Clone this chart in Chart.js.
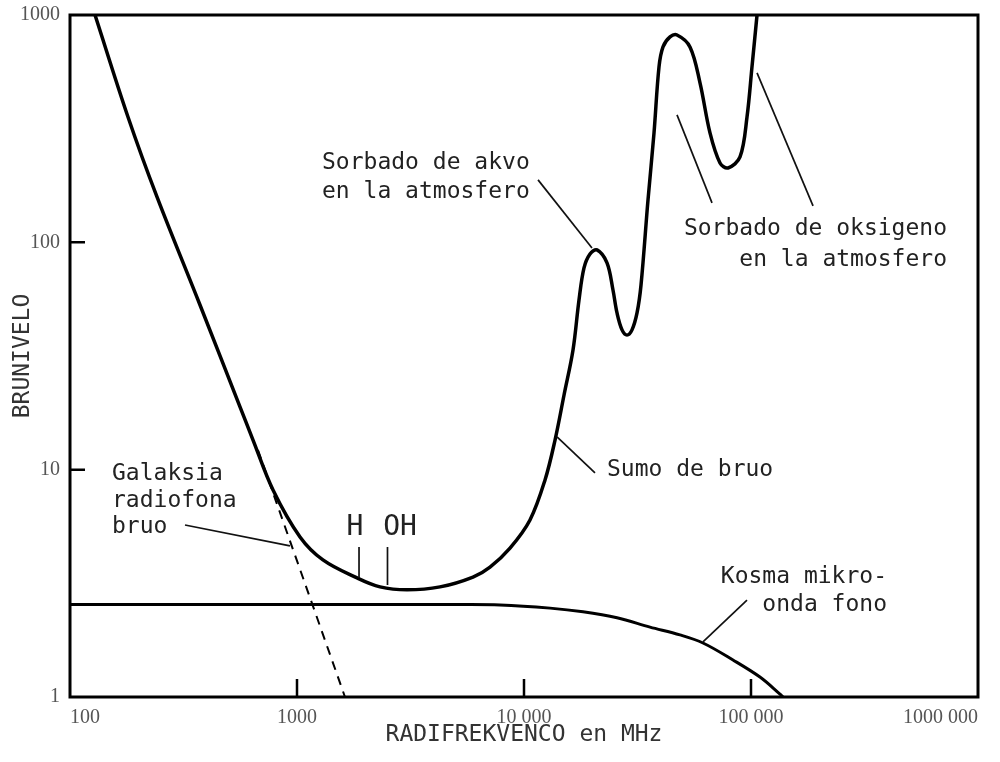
<!DOCTYPE html>
<html>
<head>
<meta charset="utf-8">
<script src="https://cdn.jsdelivr.net/npm/chart.js@4"></script>
<style>
  body { margin: 0; background: #fff; }
  canvas { display: block; }
</style>
</head>
<body>
<canvas id="noise" width="1000" height="762"></canvas>
<script>
const xTicks = [100, 1000, 10000, 100000, 1000000];
const xTickLabels = ['100', '1000', '10 000', '100 000', '1000 000'];
const yTicks = [1, 10, 100, 1000];
const yTickLabels = ['1', '10', '100', '1000'];

// Sumo de bruo
const sumoFreq = [128.9, 180.1, 241.7, 373.9, 560.9, 640.2, 784.1, 1031, 1301, 1838, 2321, 3052, 4266, 5961,
  7084, 8677, 10627, 12377, 13700, 15010, 16440, 17470, 18380, 19530, 20970, 23210, 24660, 25690, 27030,
  28430, 29910, 31470, 32770, 35180, 37390, 39330, 40960, 43980, 47210, 53850, 59610, 65970, 73020, 79190,
  89450, 96030, 101000, 106300];
const sumoLevel = [1000, 356, 158.4, 53, 18.9, 13.5, 8.14, 5.06, 4.01, 3.34, 3.05, 2.96, 3.05, 3.37,
  3.73, 4.52, 6.01, 9.01, 13.5, 21.3, 33.6, 55.8, 77.2, 88.9, 92.6, 81.2, 61.7, 48.9, 41.2,
  39.1, 41.2, 48.9, 64.9, 153.7, 302.9, 591, 724, 801, 817, 724, 503, 303, 223.5, 212.4,
  237.5, 356, 591, 1000];

// Galaksia radiofona bruo (dashed part below the total)
const galFreq = [673, 1627];
const galLevel = [12.2, 1];

// Kosma mikro-onda fono
const cmbFreq = [100, 1000, 5000, 7842, 13020, 18200, 25690, 35900, 48660, 61440, 83310, 109500, 134200, 138400];
const cmbLevel = [2.55, 2.55, 2.55, 2.54, 2.46, 2.37, 2.23, 2.03, 1.875, 1.728, 1.455, 1.224, 1.03, 1];

// labels on the plot, in data coordinates
const notes = [
  { text: ['Sorbado de akvo', 'en la atmosfero'], x: 1289, y: [223.5, 166.6], align: 'left' },
  { text: ['Sorbado de oksigeno', 'en la atmosfero'], x: 730200, y: [114.5, 83.7], align: 'right' },
  { text: ['Sumo de bruo'], x: 23210, y: [10], align: 'left' },
  { text: ['Galaksia', 'radiofona', 'bruo'], x: 153.1, y: [9.57, 7.28, 5.6], align: 'left' },
  { text: ['Kosma mikro-', 'onda fono'], x: 397200, y: [3.37, 2.54], align: 'right' }
];
const lineNotes = [
  { text: 'H', x: 1801, y: 5.54 },
  { text: 'OH', x: 2843, y: 5.54 }
];
const leaders = [
  [11530, 188.2, 19930, 94.5],
  [47210, 363.5, 67340, 149.1],
  [106300, 556.4, 187600, 144.6],
  [13980, 13.93, 20550, 9.67],
  [321.1, 5.71, 931.4, 4.62],
  [1876, 4.57, 1876, 3.34],
  [2504, 4.57, 2504, 3.11],
  [96030, 2.67, 61440, 1.746]
];

const pts = (xs, ys) => xs.map((x, i) => ({ x: x, y: ys[i] }));
const MONO = '"DejaVu Sans Mono", monospace';
const SERIF = '"Liberation Serif", serif';

const decor = {
  id: 'decor',
  afterDatasetsDraw(chart) {
    const { ctx, chartArea: a, scales: { x, y } } = chart;
    ctx.save();
    ctx.strokeStyle = '#000';
    ctx.lineWidth = 3;
    ctx.strokeRect(a.left, a.top, a.right - a.left, a.bottom - a.top);

    // inward ticks
    ctx.lineWidth = 2.5;
    ctx.beginPath();
    [1000, 10000, 100000].forEach(v => {
      const px = x.getPixelForValue(v);
      ctx.moveTo(px, a.bottom);
      ctx.lineTo(px, a.bottom - 18);
    });
    [10, 100].forEach(v => {
      const py = y.getPixelForValue(v);
      ctx.moveTo(a.left, py);
      ctx.lineTo(a.left + 15, py);
    });
    ctx.stroke();

    // leader lines
    ctx.lineWidth = 1.7;
    ctx.strokeStyle = '#111';
    leaders.forEach(l => {
      ctx.beginPath();
      ctx.moveTo(x.getPixelForValue(l[0]), y.getPixelForValue(l[1]));
      ctx.lineTo(x.getPixelForValue(l[2]), y.getPixelForValue(l[3]));
      ctx.stroke();
    });

    // text
    ctx.fillStyle = '#222';
    ctx.textBaseline = 'middle';
    ctx.font = '23px ' + MONO;
    notes.forEach(n => {
      ctx.textAlign = n.align;
      n.text.forEach((t, i) => {
        ctx.fillText(t, x.getPixelForValue(n.x), y.getPixelForValue(n.y[i]));
      });
    });
    ctx.font = '28px ' + MONO;
    ctx.textAlign = 'center';
    lineNotes.forEach(n => {
      ctx.fillText(n.text, x.getPixelForValue(n.x), y.getPixelForValue(n.y));
    });
    ctx.restore();
  }
};

new Chart(document.getElementById('noise'), {
  type: 'line',
  data: {
    datasets: [
      {
        label: 'Sumo de bruo',
        data: pts(sumoFreq, sumoLevel),
        borderColor: '#000',
        borderWidth: 3.5,
        tension: 0.35,
        pointRadius: 0
      },
      {
        label: 'Galaksia radiofona bruo',
        data: pts(galFreq, galLevel),
        borderColor: '#000',
        borderWidth: 2,
        borderDash: [9, 7],
        pointRadius: 0
      },
      {
        label: 'Kosma mikro-onda fono',
        data: pts(cmbFreq, cmbLevel),
        borderColor: '#000',
        borderWidth: 3,
        tension: 0.35,
        pointRadius: 0
      }
    ]
  },
  options: {
    responsive: false,
    animation: false,
    layout: { padding: { left: 0, top: 15, right: 22, bottom: 0 } },
    plugins: { legend: { display: false }, tooltip: { enabled: false } },
    scales: {
      x: {
        type: 'logarithmic',
        min: 100,
        max: 1000000,
        afterFit: s => { s.height = 65; s.paddingLeft = 0; s.paddingRight = 0; },
        afterBuildTicks: s => { s.ticks = xTicks.map(v => ({ value: v })); },
        grid: { display: false, drawTicks: false },
        border: { display: false },
        ticks: {
          align: 'inner',
          maxRotation: 0,
          autoSkip: false,
          padding: 9,
          color: '#555',
          font: { family: SERIF, size: 20 },
          callback: (v, i) => xTickLabels[i]
        },
        title: {
          display: true,
          text: 'RADIFREKVENCO en MHz',
          color: '#333',
          font: { family: MONO, size: 23 },
          padding: { top: 0, bottom: 13 }
        }
      },
      y: {
        type: 'logarithmic',
        min: 1,
        max: 1000,
        afterFit: s => { s.width = 70; s.paddingTop = 0; s.paddingBottom = 0; },
        afterBuildTicks: s => { s.ticks = yTicks.map(v => ({ value: v })); },
        grid: { display: false, drawTicks: false },
        border: { display: false },
        ticks: {
          padding: 10,
          color: '#555',
          font: { family: SERIF, size: 20 },
          callback: (v, i) => yTickLabels[i]
        },
        title: {
          display: true,
          text: 'BRUNIVELO',
          color: '#333',
          font: { family: MONO, size: 23 },
          padding: { top: 9, bottom: 0 }
        }
      }
    }
  },
  plugins: [decor]
});
</script>
</body>
</html>
